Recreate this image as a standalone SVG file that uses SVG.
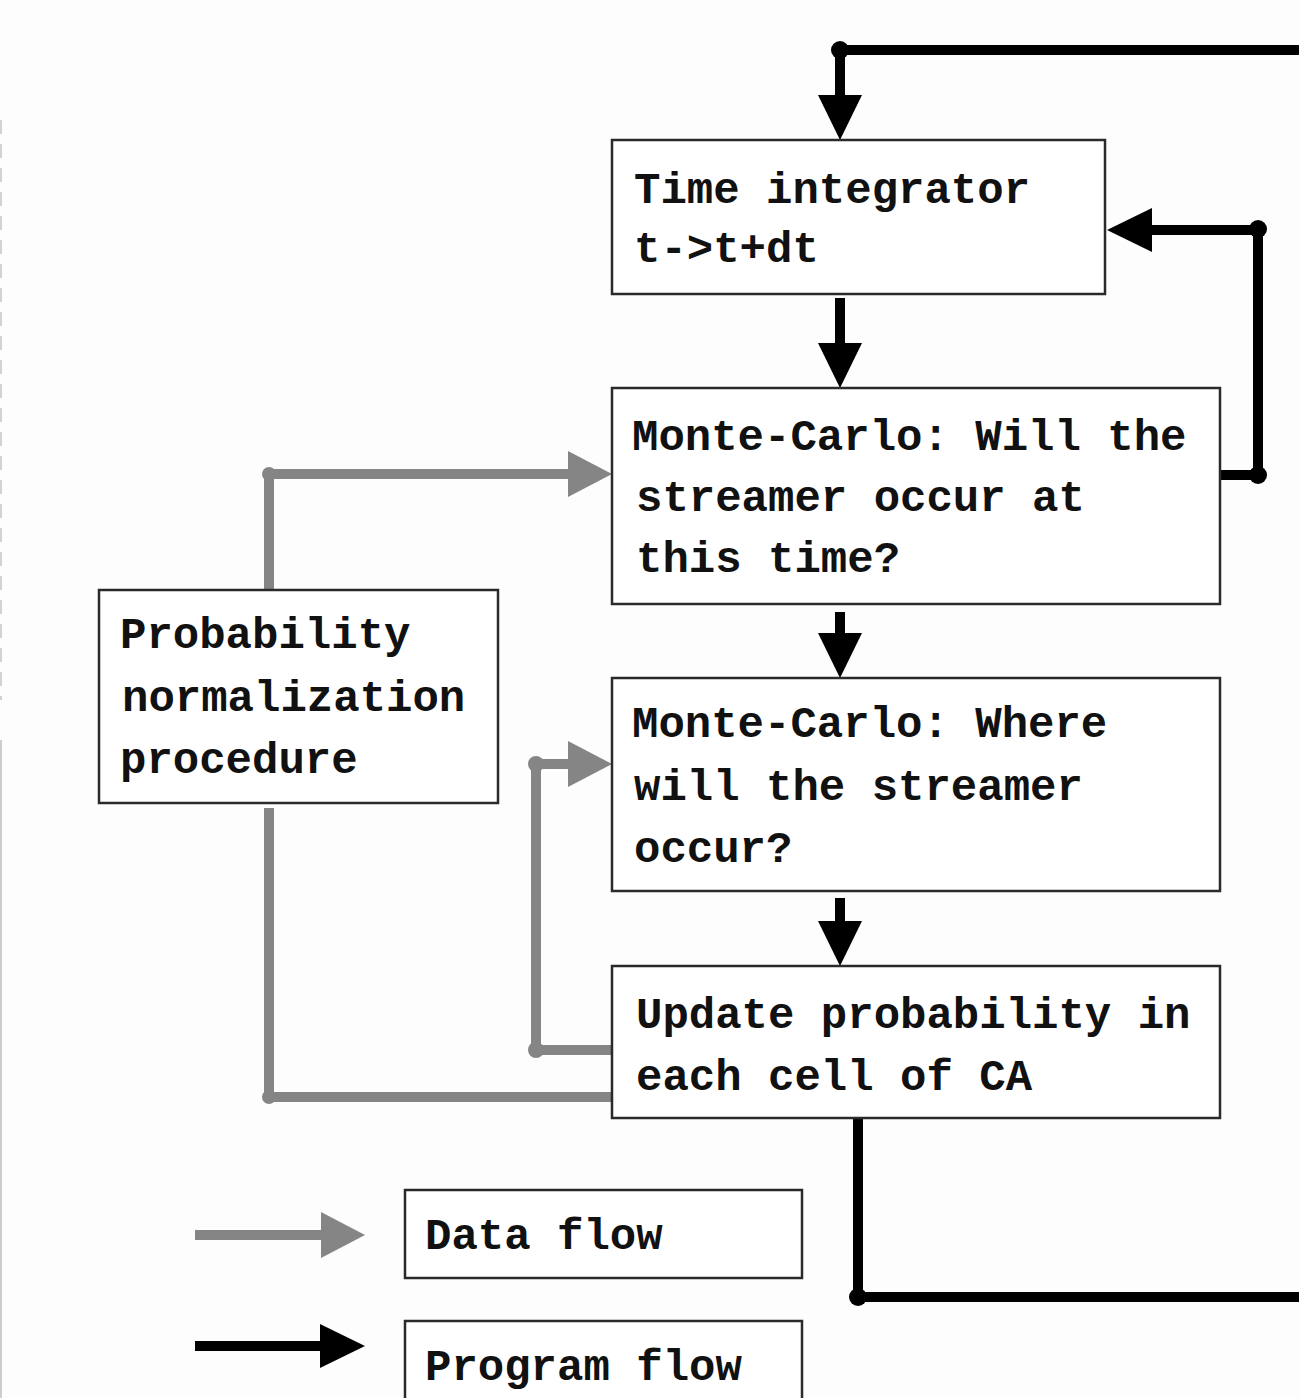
<svg xmlns="http://www.w3.org/2000/svg" width="1299" height="1398" viewBox="0 0 1299 1398">
  <style>
    .box { fill: #ffffff; stroke: #2a2a2a; stroke-width: 2.5; }
    .lbl { font-family: "Liberation Mono", "Courier New", monospace; font-weight: bold; font-size: 44px; fill: #111111; }
    .prog { fill: none; stroke: #000000; stroke-width: 10; }
    .data { fill: none; stroke: #858585; stroke-width: 10; }
    .dot-prog { fill: #000000; }
    .dot-data { fill: #858585; }
  </style>
  <defs>
    <marker id="head-prog" markerUnits="userSpaceOnUse" viewBox="0 0 45 44" refX="5" refY="22" markerWidth="45" markerHeight="44" orient="auto">
      <path d="M0,0 L45,22 L0,44 Z" fill="#000000"/>
    </marker>
    <marker id="head-data" markerUnits="userSpaceOnUse" viewBox="0 0 44 46" refX="5" refY="23" markerWidth="44" markerHeight="46" orient="auto">
      <path d="M0,0 L44,23 L0,46 Z" fill="#858585"/>
    </marker>
  </defs>

  <rect width="1299" height="1398" fill="#fdfdfd"/>
  <!-- faint page edge on the left -->
  <line x1="1" y1="120" x2="1" y2="700" stroke="#c4c4c4" stroke-width="1.5" stroke-dasharray="14 10"/>
  <line x1="1" y1="740" x2="1" y2="1398" stroke="#bdbdbd" stroke-width="1.5"/>

  <!-- connectors -->
  <g id="connectors">
    <!-- program flow -->
    <path class="prog" d="M1299,50 H840 V100" marker-end="url(#head-prog)"/>
    <path class="prog" d="M840,298 V348" marker-end="url(#head-prog)"/>
    <path class="prog" d="M1220,475 H1258 V230 H1147" marker-end="url(#head-prog)"/>
    <path class="prog" d="M840,612 V638" marker-end="url(#head-prog)"/>
    <path class="prog" d="M840,898 V926" marker-end="url(#head-prog)"/>
    <path class="prog" d="M858,1118 V1297 H1299"/>
    <circle class="dot-prog" cx="840" cy="50" r="9"/>
    <circle class="dot-prog" cx="1258" cy="229" r="9"/>
    <circle class="dot-prog" cx="1258" cy="475" r="9"/>
    <circle class="dot-prog" cx="858" cy="1297" r="9"/>

    <!-- data flow -->
    <path class="data" d="M269,590 V474 H573" marker-end="url(#head-data)"/>
    <path class="data" d="M269,808 V1097 H612"/>
    <path class="data" d="M612,1050 H536 V764 H573" marker-end="url(#head-data)"/>
    <circle class="dot-data" cx="269" cy="474" r="7"/>
    <circle class="dot-data" cx="269" cy="1097" r="7"/>
    <circle class="dot-data" cx="536" cy="1050" r="8"/>
    <circle class="dot-data" cx="536" cy="764" r="8"/>

    <!-- legend arrows -->
    <path class="data" d="M195,1235 H326" marker-end="url(#head-data)"/>
    <path class="prog" d="M195,1346 H325" marker-end="url(#head-prog)"/>
  </g>

  <g id="time-integrator">
    <rect class="box" x="612" y="140" width="493" height="154"/>
    <text class="lbl" x="634" y="203">Time integrator</text>
    <text class="lbl" x="634" y="262">t-&gt;t+dt</text>
  </g>

  <g id="mc-when">
    <rect class="box" x="612" y="388" width="608" height="216"/>
    <text class="lbl" x="632" y="450">Monte-Carlo: Will the</text>
    <text class="lbl" x="636" y="511">streamer occur at</text>
    <text class="lbl" x="636" y="572">this time?</text>
  </g>

  <g id="mc-where">
    <rect class="box" x="612" y="678" width="608" height="213"/>
    <text class="lbl" x="632" y="737">Monte-Carlo: Where</text>
    <text class="lbl" x="634" y="800">will the streamer</text>
    <text class="lbl" x="634" y="862">occur?</text>
  </g>

  <g id="update-prob">
    <rect class="box" x="612" y="966" width="608" height="152"/>
    <text class="lbl" x="636" y="1028">Update probability in</text>
    <text class="lbl" x="636" y="1090">each cell of CA</text>
  </g>

  <g id="normalization">
    <rect class="box" x="99" y="590" width="399" height="213"/>
    <text class="lbl" x="120" y="648">Probability</text>
    <text class="lbl" x="122" y="711">normalization</text>
    <text class="lbl" x="120" y="773">procedure</text>
  </g>

  <g id="legend-data">
    <rect class="box" x="405" y="1190" width="397" height="88"/>
    <text class="lbl" x="425" y="1249">Data flow</text>
  </g>

  <g id="legend-program">
    <rect class="box" x="405" y="1321" width="397" height="90"/>
    <text class="lbl" x="425" y="1380">Program flow</text>
  </g>
</svg>
